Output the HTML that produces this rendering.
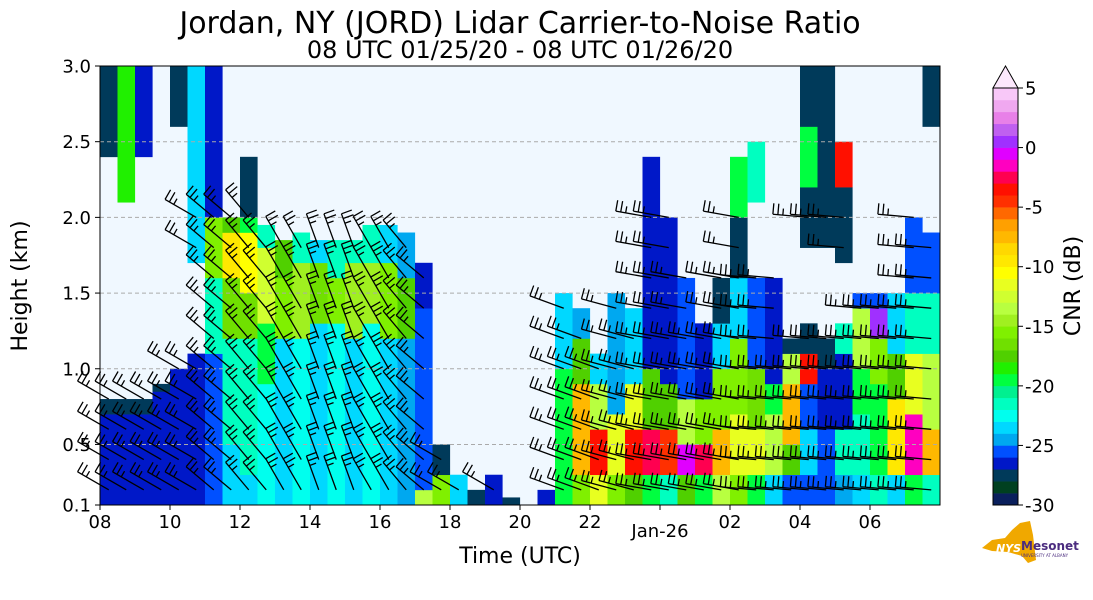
<!DOCTYPE html>
<html><head><meta charset="utf-8">
<style>
body{margin:0;background:#fff;}
svg{display:block;font-family:"DejaVu Sans","Liberation Sans",sans-serif;}
</style></head>
<body>
<svg id="chart" width="1093" height="600" viewBox="0 0 1093 600" xmlns="http://www.w3.org/2000/svg">
<text x="520" y="33" font-size="30" text-anchor="middle">Jordan, NY (JORD) Lidar Carrier-to-Noise Ratio</text>
<text x="520" y="58" font-size="24" text-anchor="middle">08 UTC 01/25/20 - 08 UTC 01/26/20</text>
<rect x="100" y="66" width="840" height="439" fill="#f0f8ff"/>
<g id="cells"></g>
<g id="grid"></g>
<g id="barbs"></g>
<rect x="100" y="66" width="840" height="439" fill="none" stroke="#000" stroke-width="1"/>
<g id="xaxis"></g>
<g id="yaxis"></g>
<text x="520" y="563" font-size="22" text-anchor="middle">Time (UTC)</text>
<text transform="translate(27,286) rotate(-90)" font-size="22" text-anchor="middle">Height (km)</text>
<g id="cbar"></g>
<text transform="translate(1080,286) rotate(-90)" font-size="22" text-anchor="middle">CNR (dB)</text>
<g>
<polygon points="982,548 992,540 1005,538 1012,530 1020,523 1030,521 1033,535 1035,552 1036,560 1028,563 1022,556 1008,552 992,551" fill="#f0a800"/>
<text x="996" y="552" font-size="11" font-weight="bold" fill="#fff" font-style="italic">NYS</text>
<text x="1021" y="550" font-size="12" font-weight="bold" fill="#4b2c7f">Mesonet</text>
<text x="1021" y="557" font-size="4" fill="#4b2c7f">UNIVERSITY AT ALBANY</text>
</g>
</svg>
<script>
// ---- data ----
const colStartHours = [];
for (let i = 0; i < 48; i++) colStartHours.push(i * 0.5); // hours since 08 UTC
const profiles = [
 [[0.1,0.7,-27],[0.7,0.8,-28],[2.4,3.0,-28]],
 [[0.1,0.7,-27],[0.7,0.8,-28],[2.1,3.0,-19]],
 [[0.1,0.7,-27],[0.7,0.8,-28],[2.4,3.0,-27]],
 [[0.1,0.85,-27],[0.85,0.9,-28]],
 [[0.1,1.0,-27],[2.6,3.0,-28]],
 [[0.1,1.1,-27],[1.7,3.0,-24]],
 [[0.1,1.1,-26],[1.1,1.6,-22],[1.6,2.0,-16],[2.0,3.0,-27]],
 [[0.1,0.5,-24],[0.5,1.2,-22],[1.2,1.6,-17],[1.6,1.9,-10],[1.9,2.0,-18]],
 [[0.1,0.3,-24],[0.3,1.2,-22],[1.2,1.5,-17],[1.5,1.9,-11],[1.9,2.0,-20],[2.0,2.4,-28]],
 [[0.1,0.9,-23],[0.9,1.3,-20],[1.3,1.8,-13],[1.8,1.95,-22]],
 [[0.1,1.2,-24],[1.2,1.6,-16],[1.6,1.85,-18]],
 [[0.1,1.2,-23],[1.2,1.7,-15],[1.7,1.9,-22]],
 [[0.1,1.3,-24],[1.3,1.7,-17],[1.7,1.85,-24]],
 [[0.1,1.3,-23],[1.3,1.6,-16],[1.6,1.85,-22]],
 [[0.1,1.2,-24],[1.2,1.7,-15],[1.7,1.85,-22]],
 [[0.1,1.3,-23],[1.3,1.7,-15],[1.7,1.95,-22]],
 [[0.1,1.2,-24],[1.2,1.7,-16],[1.7,1.95,-24]],
 [[0.1,1.2,-25],[1.2,1.6,-18],[1.6,1.9,-25]],
 [[0.1,0.2,-14],[0.2,1.4,-26],[1.4,1.7,-27]],
 [[0.1,0.3,-16],[0.3,0.5,-28]],
 [[0.1,0.3,-24]],
 [[0.1,0.2,-28]],
 [[0.1,0.3,-27]],
 [[0.1,0.15,-28]],
 [],
 [[0.1,0.2,-27]],
 [[0.1,0.5,-20],[0.5,1.0,-20],[1.0,1.5,-24]],
 [[0.1,0.3,-16],[0.3,0.9,-8],[0.9,1.2,-18],[1.2,1.4,-25]],
 [[0.1,0.3,-12],[0.3,0.6,-4],[0.6,0.9,-14],[0.9,1.1,-24]],
 [[0.1,0.3,-16],[0.3,0.7,-12],[0.7,1.5,-25]],
 [[0.1,0.3,-18],[0.3,0.6,-4],[0.6,0.9,-12],[0.9,1.4,-24]],
 [[0.1,0.3,-20],[0.3,0.6,-3],[0.6,1.0,-18],[1.0,2.4,-27]],
 [[0.1,0.3,-22],[0.3,0.6,-5],[0.6,0.9,-18],[0.9,2.0,-27]],
 [[0.1,0.3,-18],[0.3,0.5,-1],[0.5,0.8,-14],[0.8,1.6,-26]],
 [[0.1,0.3,-20],[0.3,0.5,-3],[0.5,0.8,-16],[0.8,1.3,-27]],
 [[0.1,0.3,-14],[0.3,0.6,-8],[0.6,1.0,-16],[1.0,1.3,-24],[1.3,1.6,-28]],
 [[0.1,0.3,-16],[0.3,0.7,-12],[0.7,1.2,-16],[1.2,1.6,-24],[1.6,2.0,-28],[2.0,2.4,-20]],
 [[0.1,0.3,-20],[0.3,0.6,-12],[0.6,1.0,-17],[1.0,1.6,-26],[2.1,2.5,-22]],
 [[0.1,0.3,-24],[0.3,0.7,-14],[0.7,0.9,-20],[0.9,1.6,-27]],
 [[0.1,0.3,-26],[0.3,0.5,-18],[0.5,0.9,-8],[0.9,1.1,-14],[1.1,1.2,-28]],
 [[0.1,0.3,-26],[0.3,0.6,-24],[0.6,0.9,-26],[0.9,1.1,-4],[1.1,1.3,-28],[1.8,2.2,-28],[2.2,2.6,-20],[2.6,3.0,-28]],
 [[0.1,0.3,-26],[0.3,0.6,-26],[0.6,1.0,-27],[1.0,1.2,-28],[1.8,3.0,-28]],
 [[0.1,0.3,-25],[0.3,0.6,-22],[0.6,1.1,-27],[1.1,1.3,-22],[1.7,2.2,-28],[2.2,2.5,-4]],
 [[0.1,0.3,-24],[0.3,0.7,-22],[0.7,1.0,-20],[1.0,1.4,-14],[1.4,1.5,-26]],
 [[0.1,0.3,-22],[0.3,0.6,-20],[0.6,0.9,-20],[0.9,1.2,-16],[1.2,1.4,0],[1.4,1.5,-26]],
 [[0.1,0.3,-24],[0.3,0.5,-10],[0.5,0.8,-10],[0.8,1.1,-18],[1.1,1.5,-24]],
 [[0.1,0.3,-20],[0.3,0.7,-2],[0.7,1.1,-12],[1.1,1.5,-22],[1.5,2.0,-26]],
 [[0.1,0.3,-22],[0.3,0.6,-8],[0.6,1.1,-14],[1.1,1.5,-22],[1.5,1.9,-26],[2.6,3.0,-28]]
];
const barbDir = [300,300,300,300,300,300,310,310,320,320,330,330,340,340,340,330,330,320,310,300,300,300,300,300,
                 300,300,290,290,290,285,285,280,280,280,280,280,280,275,275,275,275,275,275,275,275,275,275,275];
const xTickHours = [0,2,4,6,8,10,12,14,16,18,20,22];
const xTickLabels = ["08","10","12","14","16","18","20","22","Jan-26","02","04","06"];
const yTicks = [0.1,0.5,1.0,1.5,2.0,2.5,3.0];
const cbTicks = [5,0,-5,-10,-15,-20,-25,-30];
const cmap = ["#0a1f5c","#004020","#003a5a","#0018c8","#0050ff","#00a8f0","#00d8ff","#00ffee","#00ffc0","#00f090",
 "#00ff40","#20f000","#50d000","#70e000","#80f000","#a0f020","#b8ff40","#d0ff30","#e8ff20","#ffff00",
 "#ffe800","#ffd800","#ffb800","#ffa000","#ff6800","#ff3000","#ff1000","#ff0050","#ff00c0","#e000ff",
 "#a030ff","#c060f0","#e880e8","#f0a8f0","#f8c8f8","#fce8fc"];
// ---- axes ----
const NS = "http://www.w3.org/2000/svg";
const X = h => 100 + h * 35;
const Y = km => 505 - (km - 0.1) * (439 / 2.9);
const color = v => cmap[Math.max(0, Math.min(cmap.length - 1, Math.floor(v + 30)))];
function mk(tag, attrs, parent) { const e = document.createElementNS(NS, tag); for (const k in attrs) e.setAttribute(k, attrs[k]); parent.appendChild(e); return e; }
const cells = document.getElementById('cells');
profiles.forEach((segs, i) => {
  segs.forEach(s => {
    const r = mk('rect', {x: X(colStartHours[i]), y: Y(s[1]), width: 17.6, height: Y(s[0]) - Y(s[1]) + 0.3, fill: color(s[2])}, cells);
    
    
  });
});
const grid = document.getElementById('grid');
[0.5,1.0,1.5,2.0,2.5].forEach(k => {
  const l = mk('line', {x1: 100, x2: 940, y1: Y(k), y2: Y(k), stroke: '#aaa', 'stroke-dasharray': '4,3', 'stroke-width': 1}, grid);
  
  
});
const barbs = document.getElementById('barbs');
profiles.forEach((segs, i) => {
  if (!segs.length) return;
  const top = Math.min(segs[segs.length-1][1], 2.0);
  for (let h = 0.2; h < top; h += 0.2) {
    const inData = segs.some(s => h >= s[0] && h <= s[1]);
    if (!inData) continue;
    const a = barbDir[i] * Math.PI / 180;
    const x0 = X(colStartHours[i] + 0.25), y0 = Y(h);
    const x1 = x0 + 36 * Math.sin(a), y1 = y0 - 36 * Math.cos(a);
    const bx = 11 * Math.cos(a), by = 11 * Math.sin(a);
    const sx = 5 * Math.sin(a), sy = -5 * Math.cos(a);
    const g = mk('path', {d: `M${x0},${y0}L${x1},${y1}M${x1},${y1}l${bx},${by}M${x1-sx},${y1-sy}l${bx},${by}M${x1-2*sx},${y1-2*sy}l${bx*0.6},${by*0.6}`, stroke: '#000', 'stroke-width': 1.3, fill: 'none'}, barbs);
    
    
  }
});
const xa = document.getElementById('xaxis');
xTickHours.forEach((h, i) => {
  mk('line', {x1: X(h), x2: X(h), y1: 505, y2: 510, stroke: '#000'}, xa);
  const t = mk('text', {x: X(h), y: i === 8 ? 537 : 528, 'font-size': 18, 'text-anchor': 'middle'}, xa);
  t.textContent = xTickLabels[i];
  
  
});
const ya = document.getElementById('yaxis');
yTicks.forEach(k => {
  mk('line', {x1: 95, x2: 100, y1: Y(k), y2: Y(k), stroke: '#000'}, ya);
  const t = mk('text', {x: 91, y: Y(k) + 6.5, 'font-size': 18, 'text-anchor': 'end'}, ya);
  t.textContent = k.toFixed(1);
  
  
});
const cb = document.getElementById('cbar');
const CY = v => 505 - (v + 30) * (417 / 35);
for (let v = -30; v < 5; v++) {
  const r = mk('rect', {x: 993, y: CY(v + 1), width: 25, height: CY(v) - CY(v + 1) + 0.3, fill: color(v + 0.5)}, cb);
  
  
}
mk('polygon', {points: `993,${CY(5)} 1005.5,66 1018,${CY(5)}`, fill: cmap[35], stroke: '#000', 'stroke-width': 1}, cb);
mk('rect', {x: 993, y: CY(5), width: 25, height: CY(-30) - CY(5), fill: 'none', stroke: '#000', 'stroke-width': 1}, cb);
cbTicks.forEach(v => {
  mk('line', {x1: 1018, x2: 1023, y1: CY(v), y2: CY(v), stroke: '#000'}, cb);
  const t = mk('text', {x: 1025, y: CY(v) + 6.5, 'font-size': 18}, cb);
  t.textContent = v;
  
  
});
</script>
</body></html>
